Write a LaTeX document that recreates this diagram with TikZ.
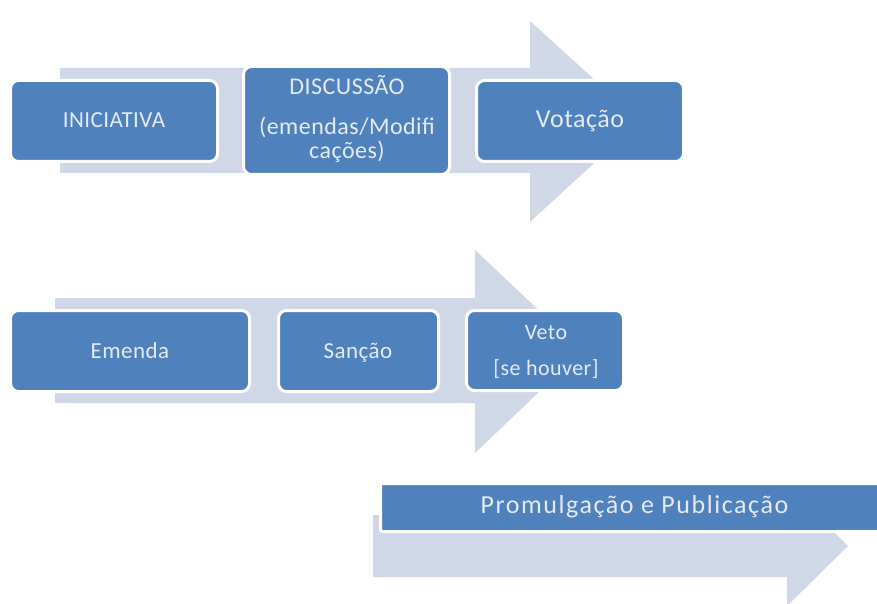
\documentclass[tikz,border=0pt]{standalone}
\usepackage{fontspec}
\setmainfont{Carlito}[LetterSpace=2]
\definecolor{boxblue}{HTML}{4F81BD}
\definecolor{arrowfill}{HTML}{D0D8E8}
\definecolor{txt}{HTML}{E4E9F3}
\begin{document}
\begin{tikzpicture}[x=1pt,y=-1pt,
  stagebox/.style={draw=white, line width=3pt, fill=boxblue, rounded corners=8pt, inner sep=0pt},
  flatbox/.style={draw=white, line width=3pt, fill=boxblue, rounded corners=2pt, inner sep=0pt},
  flow/.style={fill=arrowfill},
  lbl/.style={text=txt, anchor=base, inner sep=0pt}]
\useasboundingbox (0,0) rectangle (877,604);
\clip (0,0) rectangle (877,604);

% arrows
\fill[flow] (60,68) -- (530,68) -- (530,21) -- (640,121) -- (530,222) -- (530,173) -- (60,173) -- cycle;
\fill[flow] (55,298) -- (475,298) -- (475,250) -- (582,351) -- (475,453) -- (475,403) -- (55,403) -- cycle;
\fill[flow] (373,515) -- (787,515) -- (787,486) -- (848,546) -- (787,606) -- (787,577) -- (373,577) -- cycle;

% boxes
\node[stagebox, minimum width=207pt, minimum height=81pt] (ini) at (114,121) {};
\node[stagebox, minimum width=206pt, minimum height=108pt] (disc) at (346.5,120.5) {};
\node[stagebox, minimum width=207pt, minimum height=81pt] (vot) at (580,121) {};
\node[stagebox, minimum width=239pt, minimum height=81pt] (emenda) at (130,351) {};
\node[stagebox, minimum width=160pt, minimum height=81pt] (sancao) at (358.5,351) {};
\node[stagebox, minimum width=157pt, minimum height=80pt] (veto) at (545,350.5) {};
\node[flatbox, minimum width=508pt, minimum height=48pt] (prom) at (634.5,507.5) {};

% labels
\node[lbl, font=\fontsize{23}{24}\selectfont] (tini) at (114,128) {INICIATIVA};
\node[lbl, font=\fontsize{24}{24}\selectfont] (tdisc1) at (347,95) {DISCUSSÃO};
\node[lbl, font=\fontsize{24}{24}\selectfont] (tdisc2) at (347,135) {(emendas/Modifi};
\node[lbl, font=\fontsize{24}{24}\selectfont] (tdisc3) at (347,159) {cações)};
\node[lbl, font=\fontsize{26}{26}\selectfont] (tvot) at (580,128) {Votação};
\node[lbl, font=\fontsize{23}{24}\selectfont] (temenda) at (130,358) {Emenda};
\node[lbl, font=\fontsize{23}{24}\selectfont] (tsancao) at (358,358) {Sanção};
\node[lbl, font=\fontsize{22}{24}\selectfont] (tveto1) at (546,339) {Veto};
\node[lbl, font=\fontsize{22}{24}\selectfont] (tveto2) at (546,375) {[se houver]};
\node[lbl, font=\fontsize{26}{30}\selectfont\addfontfeature{LetterSpace=6}] (tprom) at (634.5,513) {Promulgação e Publicação};
\end{tikzpicture}
\end{document}
